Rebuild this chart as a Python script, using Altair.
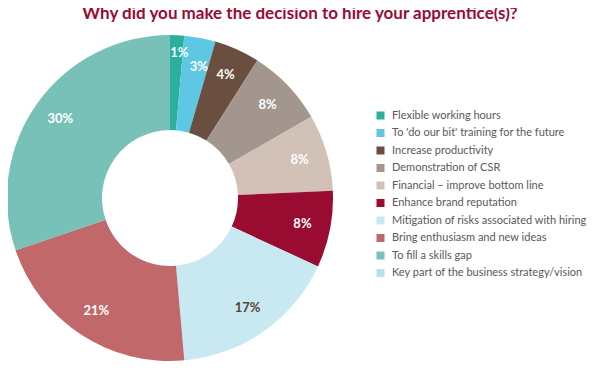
import altair as alt
import pandas as pd

categories = [
    "Flexible working hours",
    "To 'do our bit' training for the future",
    "Increase productivity",
    "Demonstration of CSR",
    "Financial  – improve bottom line",
    "Enhance brand reputation",
    "Mitigation of risks associated with hiring",
    "Bring enthusiasm and new ideas",
    "To fill a skills gap",
    "Key part of the business strategy/vision",
]
# shares (labels show the rounded figures)
values = [1.4, 3.1, 4.5, 7.7, 7.6, 7.6, 16.7, 21.2, 30.2, 0.0]
labels = ["1%", "3%", "4%", "8%", "8%", "8%", "17%", "21%", "30%", ""]
colors = [
    "#2bb0a0", "#5ec7e3", "#6a4f40", "#a2968f", "#d1c1b7",
    "#9a0b32", "#c8e9f2", "#c0686a", "#77c1b8", "#b6e1ee",
]

df = pd.DataFrame({
    "category": categories,
    "value": values,
    "label": labels,
    "order": list(range(len(categories))),
})

FONT = "Lato"
CX, CY = 162, 158

base = alt.Chart(df).encode(
    theta=alt.Theta("value:Q", stack=True),
    order=alt.Order("order:Q"),
    x=alt.value(CX),
    y=alt.value(CY),
)

arcs = base.mark_arc(outerRadius=163, innerRadius=68).encode(
    color=alt.Color(
        "category:N",
        scale=alt.Scale(domain=categories, range=colors),
        legend=alt.Legend(
            title=None,
            orient="none",
            legendX=367,
            legendY=70,
            padding=0,
            symbolType="square",
            symbolSize=64,
            symbolStrokeWidth=0,
            symbolOpacity=1,
            labelFont=FONT,
            labelFontSize=11,
            labelColor="#58595b",
            labelOffset=6,
            rowPadding=5.5,
            labelLimit=300,
        ),
    )
)

text_color = alt.condition("datum.label == '17%'", alt.value("#5a4334"), alt.value("white"))


def label_layer(expr, **kw):
    # keep all rows so the stacking matches the arcs; blank out the others
    return base.transform_calculate(
        t=f"({expr}) ? datum.label : ''"
    ).mark_text(font=FONT, fontWeight="bold", fontSize=13, **kw).encode(
        text="t:N", color=text_color
    )


text_main = label_layer("datum.label != '1%' && datum.label != '3%'", radius=135)
text_one = label_layer("datum.label == '1%'", radius=145, dx=3)
text_three = label_layer("datum.label == '3%'", radius=135, dx=4, dy=2)

chart = (
    alt.layer(arcs, text_main, text_one, text_three)
    .properties(
        width=584,
        height=324,
        autosize=alt.AutoSizeParams(type="none"),
        padding={"top": 32, "left": 0, "right": 0, "bottom": 0},
        title=alt.TitleParams(
            "Why did you make the decision to hire your apprentice(s)?",
            font=FONT,
            fontSize=17,
            fontWeight="bold",
            color="#9b0a35",
            anchor="middle",
            offset=12,
        ),
    )
    .configure_view(stroke=None)
)

chart.save("out.html", embed_options={"renderer": "svg", "actions": False})
